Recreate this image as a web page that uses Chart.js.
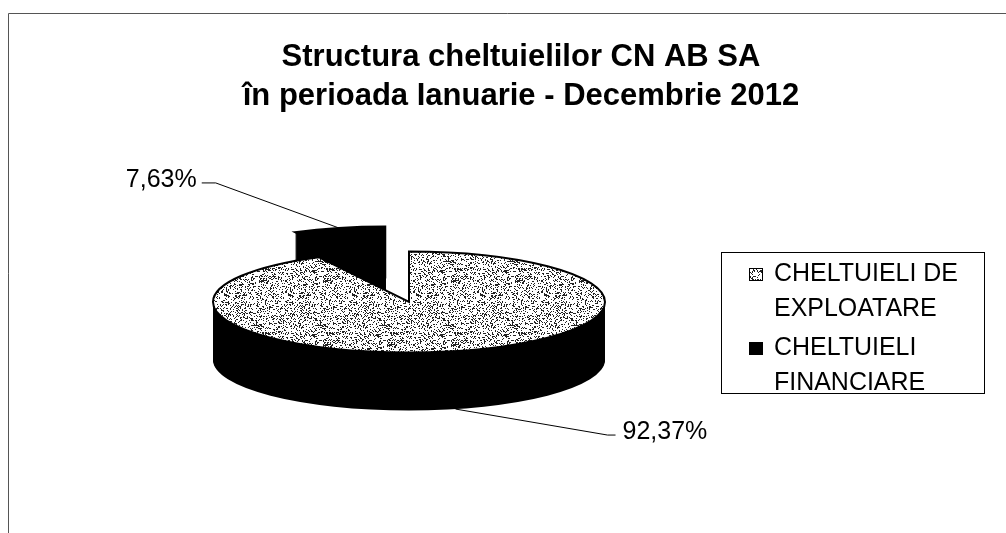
<!DOCTYPE html>
<html>
<head>
<meta charset="utf-8">
<script src="https://cdn.jsdelivr.net/npm/chart.js@4.4.0/dist/chart.umd.min.js"></script>
<style>
  html, body { margin: 0; padding: 0; background: #fff; }
  #wrap { position: relative; width: 1006px; height: 533px; }
</style>
</head>
<body>
<div id="wrap"><canvas id="chart" width="1006" height="533"></canvas></div>
<script>
// data
var titleLines = ['Structura cheltuielilor CN AB SA', 'în perioada Ianuarie - Decembrie 2012'];
var categories = [['CHELTUIELI DE', 'EXPLOATARE'], ['CHELTUIELI', 'FINANCIARE']];
var shares = [92.37, 7.63];
var shareLabels = ['92,37%', '7,63%'];

// look of the old 3D pie (screen pixels)
var PIE = { cx: 409, cy: 302, rx: 196, ry: 50.5, depth: 58, explode: 0.51, explodeIndex: 1 };
var FONT = '"Liberation Sans", Arial, sans-serif';

// grey speckle like the printed fill
function makeSpeckle() {
  var c = document.createElement('canvas');
  c.width = 64; c.height = 64;
  var g = c.getContext('2d');
  g.fillStyle = '#fff';
  g.fillRect(0, 0, 64, 64);
  g.fillStyle = '#222';
  for (var j = 0; j < 64; j++) {
    for (var i = 0; i < 64; i++) {
      var v = Math.sin(i * 12.9898 + j * 78.233) * 43758.5453;
      v = v - Math.floor(v);
      if (v < 0.27) g.fillRect(i, j, 1, 1);
    }
  }
  return g.createPattern(c, 'repeat');
}

var ctx0 = document.getElementById('chart').getContext('2d');
var speckle = makeSpeckle();
var sliceColors = [speckle, '#000'];

function slicePath(ctx, el, dy, off) {
  var R = el.outerRadius;
  var k = PIE.rx / R, s = PIE.ry / R;
  var mid = (el.startAngle + el.endAngle) / 2;
  var x = el.x + Math.cos(mid) * off * R;
  var y = el.y + Math.sin(mid) * off * R;
  ctx.setTransform(k, 0, 0, s, PIE.cx - el.x * k, PIE.cy + dy - el.y * s);
  ctx.beginPath();
  ctx.moveTo(x, y);
  ctx.arc(x, y, R, el.startAngle, el.endAngle);
  ctx.closePath();
  ctx.setTransform(1, 0, 0, 1, 0, 0);
}

function anchorPoint(el, off, dy) {
  var mid = (el.startAngle + el.endAngle) / 2;
  return {
    x: PIE.cx + Math.cos(mid) * (off + 1) * PIE.rx,
    y: PIE.cy + Math.sin(mid) * (off + 1) * PIE.ry + dy,
    left: Math.cos(mid) < 0
  };
}

// text a bit narrower, like the scanned print
function narrowText(ctx, text, x, y, sx) {
  ctx.save();
  ctx.translate(x, y);
  ctx.scale(sx, 1);
  ctx.fillText(text, 0, 0);
  ctx.restore();
}

var pie3d = {
  id: 'pie3d',
  beforeDraw: function (chart) {
    var ctx = chart.ctx;
    ctx.save();
    ctx.strokeStyle = '#555';
    ctx.lineWidth = 1;
    ctx.beginPath();
    ctx.moveTo(8.5, 533);
    ctx.lineTo(8.5, 13.5);
    ctx.lineTo(1006, 13.5);
    ctx.stroke();
    ctx.restore();
  },
  beforeDatasetsDraw: function (chart) {
    var ctx = chart.ctx;
    var arcs = chart.getDatasetMeta(0).data;
    // exploded slice sits behind, draw it first
    var order = [PIE.explodeIndex];
    for (var i = 0; i < arcs.length; i++) if (i !== PIE.explodeIndex) order.push(i);
    ctx.save();
    order.forEach(function (idx) {
      var el = arcs[idx];
      var off = idx === PIE.explodeIndex ? PIE.explode : 0;
      ctx.fillStyle = '#000';
      for (var d = PIE.depth; d > 0; d--) {
        slicePath(ctx, el, d, off);
        ctx.fill();
      }
      slicePath(ctx, el, 0, off);
      ctx.fillStyle = sliceColors[idx];
      ctx.fill();
      ctx.strokeStyle = '#000';
      ctx.lineWidth = 2;
      ctx.stroke();
    });
    ctx.restore();
    return false;
  },
  afterDraw: function (chart) {
    var ctx = chart.ctx;
    var arcs = chart.getDatasetMeta(0).data;
    ctx.save();
    // percentage labels with leader lines
    var elbows = [[152, 26], [-123, -45]];
    ctx.font = '25px ' + FONT;
    ctx.fillStyle = '#000';
    ctx.strokeStyle = '#000';
    ctx.lineWidth = 1;
    ctx.textBaseline = 'middle';
    arcs.forEach(function (el, i) {
      var exploded = i === PIE.explodeIndex;
      var a = anchorPoint(el, exploded ? PIE.explode : 0, exploded ? 0 : PIE.depth);
      var ex = a.x + elbows[i][0], ey = a.y + elbows[i][1];
      ctx.beginPath();
      ctx.moveTo(a.x, a.y);
      ctx.lineTo(ex, ey);
      ctx.lineTo(a.left ? ex - 14 : ex + 8, ey);
      ctx.stroke();
      ctx.textAlign = a.left ? 'right' : 'left';
      ctx.fillText(shareLabels[i], a.left ? ex - 19 : ex + 15, ey - 3);
    });

    // legend box
    ctx.lineWidth = 1;
    ctx.strokeRect(721.5, 252.5, 263, 141);
    ctx.font = '26px ' + FONT;
    ctx.textAlign = 'left';
    ctx.textBaseline = 'alphabetic';
    var baselines = [281, 355];
    categories.forEach(function (lines, i) {
      ctx.fillStyle = sliceColors[i];
      ctx.fillRect(749, baselines[i] - 13, 14, 13);
      ctx.strokeRect(749.5, baselines[i] - 12.5, 13, 12);
      ctx.fillStyle = '#000';
      lines.forEach(function (t, j) {
        narrowText(ctx, t, 774, baselines[i] + j * 34.5, 0.96);
      });
    });
    ctx.restore();
  }
};

new Chart(ctx0, {
  type: 'pie',
  data: {
    labels: categories,
    datasets: [{
      data: shares,
      backgroundColor: sliceColors,
      borderWidth: 0
    }]
  },
  options: {
    responsive: false,
    devicePixelRatio: 1,
    animation: false,
    rotation: 0,
    layout: { padding: { left: 36, top: 38 } },
    plugins: {
      legend: { display: false },
      tooltip: { enabled: false },
      title: {
        display: true,
        text: titleLines,
        color: '#000',
        font: { family: FONT, size: 31, weight: 'bold', lineHeight: 1.26 },
        padding: { top: 0, bottom: 10 }
      }
    }
  },
  plugins: [pie3d]
});
</script>
</body>
</html>
